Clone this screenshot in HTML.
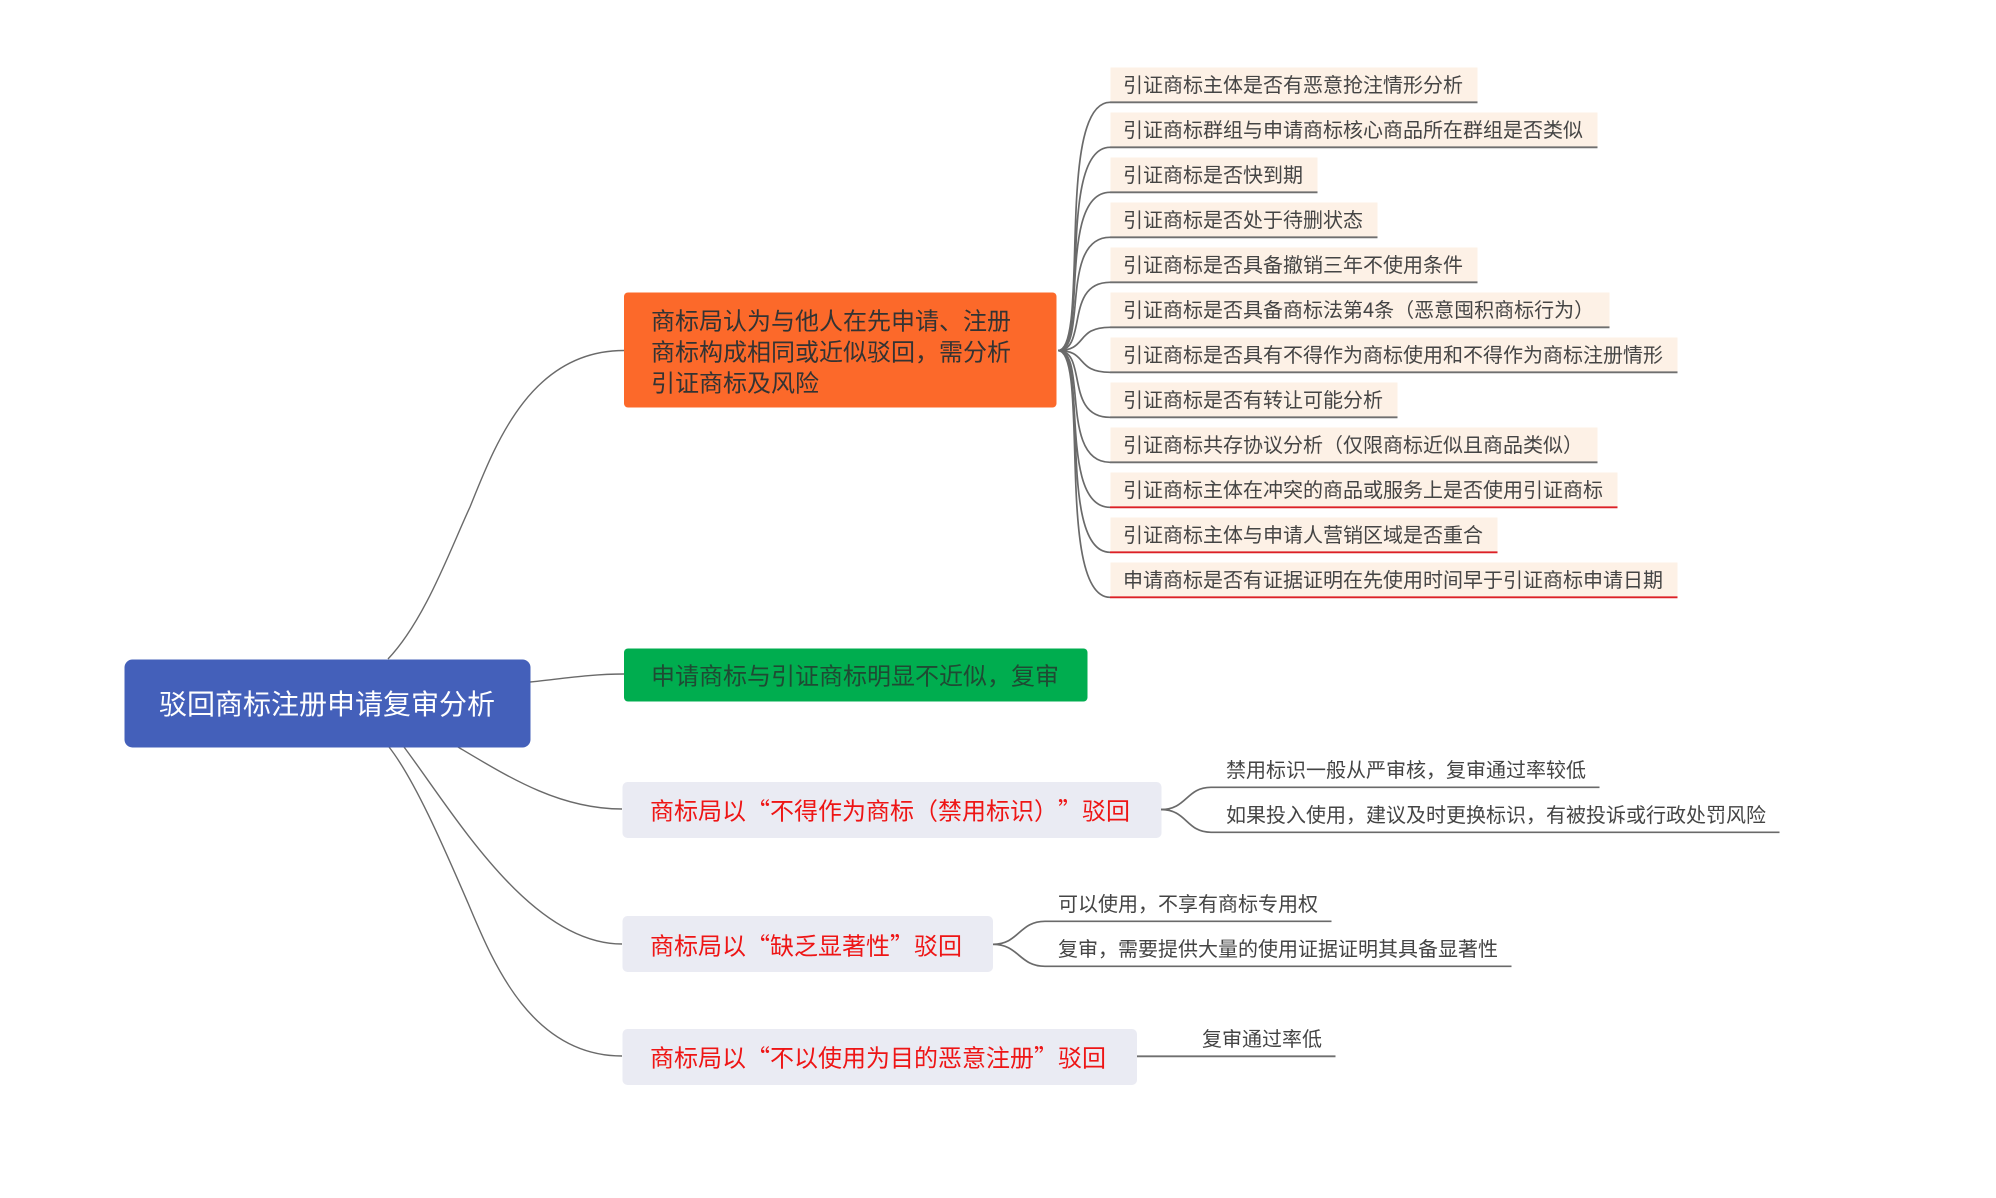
<!DOCTYPE html>
<html lang="zh-CN">
<head>
<meta charset="utf-8">
<title>驳回商标注册申请复审分析</title>
<style>
html,body{margin:0;padding:0;background:#fff;width:1996px;height:1198px;overflow:hidden}
svg{display:block}
text{font-family:"Noto Sans CJK SC","WenQuanYi Zen Hei","Liberation Sans",sans-serif;white-space:pre;text-spacing-trim:space-all}
.l{font-size:20px;fill:#444}
.m{font-size:24px;fill:#333}
.r{font-size:24px;fill:#ee1515}
.c{fill:none;stroke:#6a6a6a;stroke-width:1.7}
.t{fill:none;stroke:#6a6a6a;stroke-width:1.4}
.g{stroke:#6f6f6f;stroke-width:1.8}
.e{stroke:#dc2026;stroke-width:1.8}
.b{fill:#fdf1e6}
</style>
</head>
<body>
<svg width="1996" height="1198" viewBox="0 0 1996 1198" xmlns="http://www.w3.org/2000/svg">
<rect width="1996" height="1198" fill="#fff"/>

<!-- root connectors -->
<path class="t" d="M388,659 C425,620 450,550 470,507 C495,445 530,350.5 624,350.5"/>
<path class="t" d="M530,682 C560,679 590,674 624,674"/>
<path class="t" d="M458,747 C510,778 560,809 622,809"/>
<path class="t" d="M404,747 C455,815 530,944 622,944"/>
<path class="t" d="M389,747 C415,780 445,850 468,903 C492,960 530,1056 622,1056"/>

<!-- root -->
<rect x="124.5" y="659.5" width="406" height="88" rx="8" fill="#4460ba"/>
<text x="159" y="714" font-size="28" fill="#fff">驳回商标注册申请复审分析</text>

<!-- orange -->
<rect x="624" y="292.5" width="432.5" height="115" rx="4" fill="#fc692a"/>
<text class="m" x="651" y="329.5">商标局认为与他人在先申请、注册</text>
<text class="m" x="651" y="360.5">商标构成相同或近似驳回，需分析</text>
<text class="m" x="651" y="391.5">引证商标及风险</text>

<!-- green -->
<rect x="624" y="648.5" width="463.5" height="53" rx="4" fill="#00ad4f"/>
<text class="m" x="651" y="684.5" style="fill:#1f4a33">申请商标与引证商标明显不近似，复审</text>

<!-- gray nodes -->
<rect x="622.5" y="782" width="539" height="56" rx="5" fill="#eaebf3"/>
<text class="r" x="650" y="819.5">商标局以“不得作为商标<tspan x="914">（</tspan><tspan x="938">禁用标识</tspan><tspan x="1034">）</tspan><tspan x="1058">”</tspan><tspan x="1082">驳回</tspan></text>
<rect x="622.5" y="916" width="370.5" height="56" rx="5" fill="#eaebf3"/>
<text class="r" x="650" y="954.5">商标局以“缺乏显著性”驳回</text>
<rect x="622.5" y="1029" width="514.5" height="56" rx="5" fill="#eaebf3"/>
<text class="r" x="650" y="1066.5">商标局以“不以使用为目的恶意注册”驳回</text>

<!-- leaf backgrounds -->
<rect class="b" x="1110.5" y="67.5" width="367" height="35"/>
<rect class="b" x="1110.5" y="112.5" width="487" height="35"/>
<rect class="b" x="1110.5" y="157.5" width="207" height="35"/>
<rect class="b" x="1110.5" y="202.5" width="267" height="35"/>
<rect class="b" x="1110.5" y="247.5" width="367" height="35"/>
<rect class="b" x="1110.5" y="292.5" width="499" height="35"/>
<rect class="b" x="1110.5" y="337.5" width="567" height="35"/>
<rect class="b" x="1110.5" y="382.5" width="287" height="35"/>
<rect class="b" x="1110.5" y="427.5" width="487" height="35"/>
<rect class="b" x="1110.5" y="472.5" width="507" height="35"/>
<rect class="b" x="1110.5" y="517.5" width="387" height="35"/>
<rect class="b" x="1110.5" y="562.5" width="567" height="35"/>

<!-- bundle connectors -->
<path class="c" d="M1058,350.5 C1090,350.5 1055,102.3 1110,102.3"/>
<path class="c" d="M1058,350.5 C1090,350.5 1056,147.3 1110,147.3"/>
<path class="c" d="M1058,350.5 C1088,350.5 1057,192.3 1110,192.3"/>
<path class="c" d="M1058,350.5 C1088,350.5 1059,237.3 1110,237.3"/>
<path class="c" d="M1058,350.5 C1088,350.5 1064,282.3 1110,282.3"/>
<path class="c" d="M1058,350.5 C1088,350.5 1075,327.3 1110,327.3"/>
<path class="c" d="M1058,350.5 C1088,350.5 1075,372.3 1110,372.3"/>
<path class="c" d="M1058,350.5 C1088,350.5 1064,417.3 1110,417.3"/>
<path class="c" d="M1058,350.5 C1088,350.5 1059,462.3 1110,462.3"/>
<path class="c" d="M1058,350.5 C1088,350.5 1057,507.3 1110,507.3"/>
<path class="c" d="M1058,350.5 C1090,350.5 1056,552.3 1110,552.3"/>
<path class="c" d="M1058,350.5 C1090,350.5 1055,597.3 1110,597.3"/>

<!-- leaf underlines -->
<line class="g" x1="1110" y1="102.3" x2="1477.5" y2="102.3"/>
<line class="g" x1="1110" y1="147.3" x2="1597.5" y2="147.3"/>
<line class="g" x1="1110" y1="192.3" x2="1317.5" y2="192.3"/>
<line class="g" x1="1110" y1="237.3" x2="1377.5" y2="237.3"/>
<line class="g" x1="1110" y1="282.3" x2="1477.5" y2="282.3"/>
<line class="g" x1="1110" y1="327.3" x2="1609.5" y2="327.3"/>
<line class="g" x1="1110" y1="372.3" x2="1677.5" y2="372.3"/>
<line class="g" x1="1110" y1="417.3" x2="1397.5" y2="417.3"/>
<line class="g" x1="1110" y1="462.3" x2="1597.5" y2="462.3"/>
<line class="e" x1="1110" y1="507.3" x2="1617.5" y2="507.3"/>
<line class="e" x1="1110" y1="552.3" x2="1497.5" y2="552.3"/>
<line class="e" x1="1110" y1="597.3" x2="1677.5" y2="597.3"/>

<!-- leaf text -->
<text class="l" x="1123" y="92">引证商标主体是否有恶意抢注情形分析</text>
<text class="l" x="1123" y="137">引证商标群组与申请商标核心商品所在群组是否类似</text>
<text class="l" x="1123" y="182">引证商标是否快到期</text>
<text class="l" x="1123" y="227">引证商标是否处于待删状态</text>
<text class="l" x="1123" y="272">引证商标是否具备撤销三年不使用条件</text>
<text class="l" x="1123" y="317">引证商标是否具备商标法第4条（恶意囤积商标行为）</text>
<text class="l" x="1123" y="362">引证商标是否具有不得作为商标使用和不得作为商标注册情形</text>
<text class="l" x="1123" y="407">引证商标是否有转让可能分析</text>
<text class="l" x="1123" y="452">引证商标共存协议分析（仅限商标近似且商品类似）</text>
<text class="l" x="1123" y="497">引证商标主体在冲突的商品或服务上是否使用引证商标</text>
<text class="l" x="1123" y="542">引证商标主体与申请人营销区域是否重合</text>
<text class="l" x="1123" y="587">申请商标是否有证据证明在先使用时间早于引证商标申请日期</text>

<!-- branch 1 -->
<path class="c" d="M1161,809.5 C1187,809.5 1186,787.3 1211,787.3 L1599.5,787.3"/>
<path class="c" d="M1161,809.5 C1187,809.5 1186,832.3 1211,832.3 L1779.5,832.3"/>
<text class="l" x="1226" y="777">禁用标识一般从严审核，复审通过率较低</text>
<text class="l" x="1226" y="822">如果投入使用，建议及时更换标识，有被投诉或行政处罚风险</text>

<!-- branch 2 -->
<path class="c" d="M993,944.3 C1019,944.3 1019,921.3 1045,921.3 L1331.5,921.3"/>
<path class="c" d="M993,944.3 C1019,944.3 1019,966.3 1045,966.3 L1511.5,966.3"/>
<text class="l" x="1058" y="911">可以使用，不享有商标专用权</text>
<text class="l" x="1058" y="956">复审，需要提供大量的使用证据证明其具备显著性</text>

<!-- branch 3 -->
<line class="g" x1="1137" y1="1056.3" x2="1335.5" y2="1056.3"/>
<text class="l" x="1202" y="1046">复审通过率低</text>
</svg>
</body>
</html>
